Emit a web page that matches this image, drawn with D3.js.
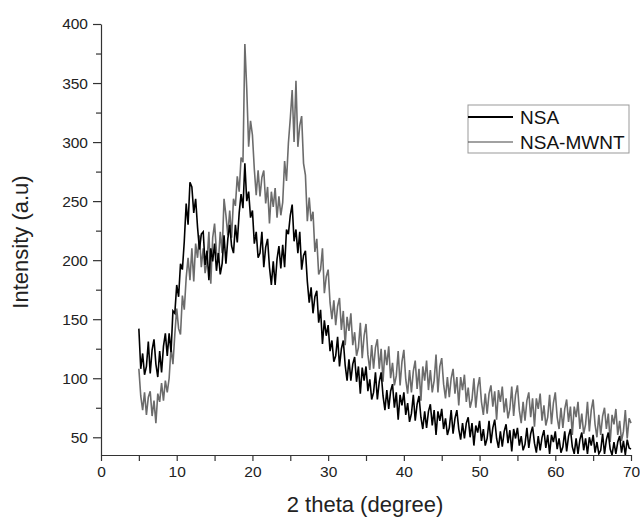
<!DOCTYPE html>
<html>
<head>
<meta charset="utf-8">
<script src="https://cdn.jsdelivr.net/npm/d3@7"></script>
<style>
  html, body { margin: 0; padding: 0; background: #fff; }
  svg { display: block; font-family: "Liberation Sans", Arial, sans-serif; }
</style>
</head>
<body>
<svg id="chart" width="640" height="520"></svg>
<script>
// 2 theta from 5 to 70 step 0.25
const thetaStart = 5, thetaStep = 0.25;
const seriesNames = ["NSA", "NSA-MWNT"];
const xTicks = [0, 10, 20, 30, 40, 50, 60, 70];
const yTicks = [50, 100, 150, 200, 250, 300, 350, 400];

const nsa = [
  142,108,121,103, 110,131,104,124, 133,112,101,123, 105,127,138,119,
  138,122,157,155, 179,169,197,192, 216,248,230,266, 262,240,252,228,
  209,222,224,196, 208,183,210,199, 214,191,206,188, 197,221,197,218,
  230,212,206,230, 215,240,256,244, 282,250,258,236, 242,214,224,202,
  206,224,194,211, 218,194,179,199, 179,201,212,193, 213,194,226,222,
  238,247,216,226, 206,224,192,204, 208,182,164,177, 155,169,174,147,
  158,129,149,136, 145,123,132,114, 119,135,110,125, 132,111,98,116,
  98,112,118,97,   110,87,109,98,   110,89,99,82,    88,105,82,97,
  105,85,73,90,    74,89,95,75,     88,65,86,77,     88,69,79,63,
  70,86,64,78,     85,67,57,72,     58,72,78,60,     73,52,72,64,
  74,57,66,52,     58,73,53,66,     73,57,48,62,     49,62,67,50,
  62,43,60,54,     64,47,57,43,     49,64,45,58,     65,49,41,55,
  42,55,61,45,     56,38,57,49,     58,43,51,39,     44,58,41,53,
  59,45,37,51,     39,50,56,41,     52,36,52,46,     55,40,49,37,
  42,55,38,51,     57,42,36,49,     36,48,54,39,     49,36,50,43,
  52,37,46,36,     39,53,36,48,     54,40,35,46,     36,46,51,37,
  47,35,48,41,     40
];

const nsaMwnt = [
  108,85,73,88,    69,84,89,68,     81,62,87,80,     96,81,98,88,
  100,126,112,137, 159,142,137,170, 158,185,202,183, 210,182,214,202,
  221,194,210,189, 199,224,180,219, 231,207,198,224, 206,252,238,221,
  242,219,252,246, 271,258,287,283, 383,345,296,318, 306,277,255,276,
  254,270,276,248, 262,231,258,245, 261,236,254,238, 249,284,267,299,
  320,344,300,352, 296,314,322,282, 272,233,253,233, 241,207,218,188,
  192,210,172,186, 192,164,150,166, 145,161,168,141, 157,128,152,140,
  155,128,139,119, 126,147,117,136, 146,120,107,128, 108,126,133,108,
  125,97,124,111,  127,100,113,94,  102,123,94,114,  124,99,87,107,
  88,106,115,91,   108,81,110,98,   115,90,107,88,   98,120,88,110,
  117,95,83,101,   84,100,108,87,   101,77,101,90,   103,80,92,75,
  82,100,75,92,    101,80,69,87,    70,87,94,76,     89,65,90,80,
  93,71,83,66,     74,93,68,86,     94,73,62,80,     64,81,88,67,
  83,59,83,74,     87,64,77,60,     67,86,61,79,     88,67,57,75,
  58,74,82,63,     76,52,76,67,     80,57,70,53,     61,80,55,73,
  82,61,50,69,     52,68,75,57,     70,46,69,61,     74,52,64,47,
  55,73,49,66,     62
];

const svg = d3.select("#chart");
const x = d3.scaleLinear().domain([0, 70]).range([101, 631]);
const y = d3.scaleLinear().domain([35, 400]).range([455, 24]);

svg.append("defs").append("clipPath").attr("id", "plot")
  .append("rect").attr("x", 101).attr("y", 20).attr("width", 531).attr("height", 436);

const line = d3.line()
  .x((d, i) => x(thetaStart + i * thetaStep))
  .y(d => y(d));

const g = svg.append("g").attr("clip-path", "url(#plot)");
g.append("path").datum(nsaMwnt)
  .attr("d", line).attr("fill", "none")
  .attr("stroke", "#6c6c6c").attr("stroke-width", 1.6);
g.append("path").datum(nsa)
  .attr("d", line).attr("fill", "none")
  .attr("stroke", "#000").attr("stroke-width", 1.6);

// axes
const xMinor = d3.range(5, 70, 10);
svg.append("g").attr("transform", "translate(0,455)")
  .call(d3.axisBottom(x).tickValues(xTicks).tickFormat(d3.format("d")).tickSizeInner(6).tickSizeOuter(0).tickPadding(5));
svg.append("g").attr("transform", "translate(0,455)")
  .call(d3.axisBottom(x).tickValues(xMinor).tickFormat("").tickSizeInner(6).tickSizeOuter(0))
  .select(".domain").remove();

const yMinor = d3.range(75, 400, 50);
svg.append("g").attr("transform", "translate(101,0)")
  .call(d3.axisLeft(y).tickValues(yTicks).tickSizeInner(8).tickSizeOuter(0).tickPadding(5));
svg.append("g").attr("transform", "translate(101,0)")
  .call(d3.axisLeft(y).tickValues(yMinor).tickFormat("").tickSizeInner(5).tickSizeOuter(0))
  .select(".domain").remove();

svg.selectAll(".tick text").attr("font-size", 15.5).attr("fill", "#222")
  .attr("font-family", '"Liberation Sans", Arial, sans-serif');
svg.selectAll(".domain, .tick line").attr("stroke", "#333").attr("stroke-width", 1.2);

// axis titles
svg.append("text").attr("x", 365).attr("y", 512).attr("text-anchor", "middle")
  .attr("font-size", 22).attr("fill", "#222").text("2 theta (degree)");
svg.append("text").attr("transform", "translate(28,242) rotate(-90)").attr("text-anchor", "middle")
  .attr("font-size", 22).attr("fill", "#222").text("Intensity (a.u)");

// legend
const leg = svg.append("g");
leg.append("rect").attr("x", 468).attr("y", 105).attr("width", 161).attr("height", 48)
  .attr("fill", "#fff").attr("stroke", "#999").attr("stroke-width", 1);
const legColors = ["#000", "#444"];
const legWidths = [1.8, 1.1];
seriesNames.forEach((name, i) => {
  const ly = 117 + i * 25;
  leg.append("line").attr("x1", 468).attr("x2", 513).attr("y1", ly).attr("y2", ly)
    .attr("stroke", legColors[i]).attr("stroke-width", legWidths[i]);
  leg.append("text").attr("x", 520).attr("y", ly + 7).attr("font-size", 19).attr("fill", "#111").text(name);
});
</script>
</body>
</html>
